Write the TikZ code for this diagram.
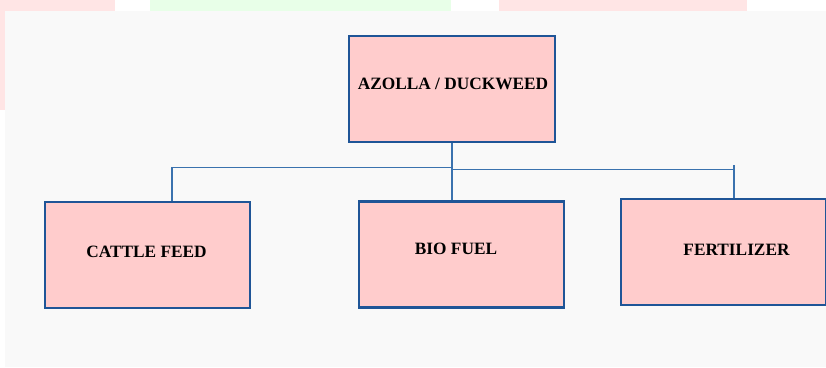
\documentclass[tikz,border=0pt]{standalone}
\usepackage{fontspec}
\setmainfont{Liberation Serif}
\definecolor{boxfill}{HTML}{FFCCCC}
\definecolor{boxline}{HTML}{1F5597}
\definecolor{linkline}{HTML}{3A72AE}
\definecolor{backgray}{HTML}{F9F9F9}
\begin{document}
\begin{tikzpicture}[x=1pt, y=-1pt,
    box/.style={draw=boxline, line width=2.2pt, fill=boxfill,
        minimum width=205pt, minimum height=106pt, inner sep=0pt},
    lbl/.style={anchor=base, font=\fontsize{17.3}{20}\selectfont\bfseries},
    link/.style={draw=linkline, line width=1.2pt}]
    \useasboundingbox (0,0) rectangle (826,367);
    % page behind the chart
    \fill[white] (0,0) rectangle (826,367);
    \fill[red!10] (0,0) rectangle (115,11);
    \fill[red!10] (0,0) rectangle (5,110);
    \fill[green!9] (150,0) rectangle (451,11);
    \fill[red!10] (499,0) rectangle (747,11);
    \fill[backgray] (5,11) rectangle (826,367);

    \node[box, minimum width=206pt] (azolla) at (452,89) {};
    \node[box] (cattle) at (147.5,255) {};
    \node[box] (bio) at (461.5,254.5) {};
    \node[box] (fert) at (723.5,252) {};

    \node[lbl] (azollatxt) at (453,89) {AZOLLA / DUCKWEED};
    \node[lbl] (cattletxt) at (146.5,257) {CATTLE FEED};
    \node[lbl] (biotxt) at (456,254) {BIO FUEL};
    \node[lbl] (ferttxt) at (736.5,255) {FERTILIZER};

    % branches
    \coordinate (jleft) at (452,167.5);
    \coordinate (jright) at (452,169.5);
    \coordinate (rtick) at (734,165);
    \draw[link] (azolla.south) -- (azolla.south |- bio.north);
    \draw[link] (jleft) -| ([xshift=24.5pt]cattle.north);
    \draw[link] (jright) -- (jright -| rtick);
    \draw[link] (rtick) -- (rtick |- fert.north);
\end{tikzpicture}
\end{document}
